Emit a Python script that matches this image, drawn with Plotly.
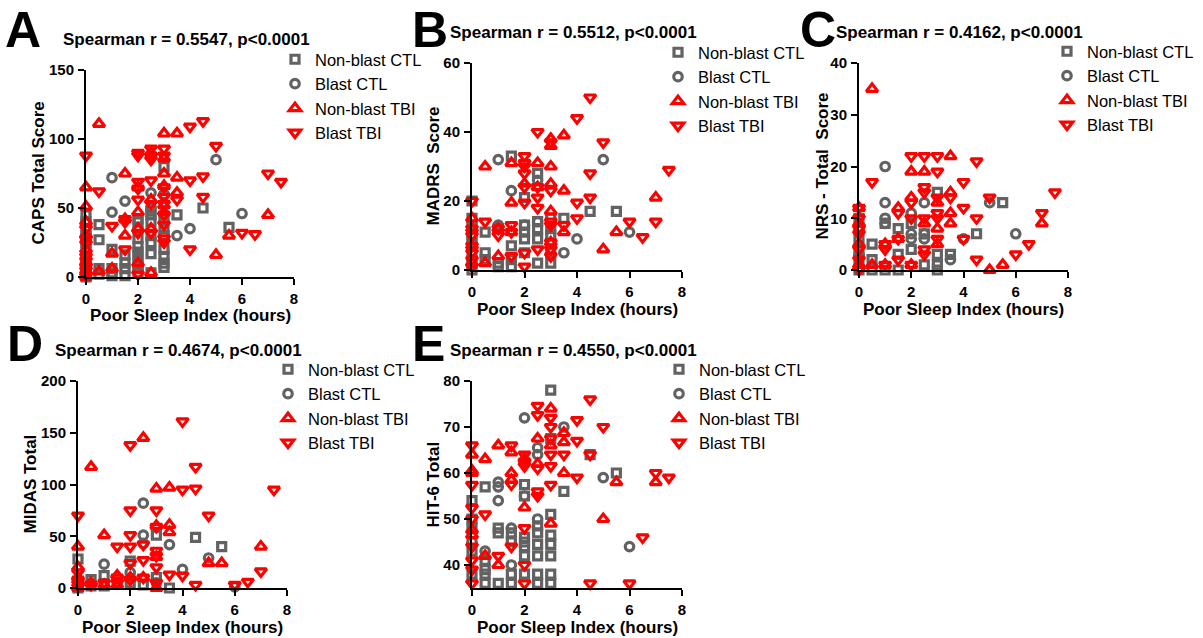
import plotly.graph_objects as go

W, H = 1203, 638
GREY = "#626262"
RED = "#ff0000"
FONT = "Liberation Sans, Arial, sans-serif"

# ---- data: (poor sleep index hours, score) ----
# A: CAPS total score
caps_nonblast_ctl = [(0, 0), (0, 2), (0, 5), (0, 8), (0, 12), (0, 15), (0, 20), (0, 25), (0, 30), (0, 35), (0, 40), (0, 45),
                     (0.5, 38), (0.5, 27), (0.5, 6), (0.5, 2), (1, 20), (1, 6), (1, 1), (1, 3), (1.5, 16), (1.5, 6), (1.5, 1), (1.5, 10),
                     (2, 28), (2, 22), (2, 18), (2, 14), (2, 10), (2, 6), (2, 3), (2, 40), (2, 42),
                     (2.5, 45), (2.5, 40), (2.5, 30), (2.5, 25), (2.5, 17), (2.5, 3), (2.5, 48),
                     (3, 35), (3, 30), (3, 20), (3, 15), (3, 10), (3, 7), (3, 80), (3, 42), (3.5, 45), (4.5, 50), (5.5, 36)]
caps_blast_ctl = [(0, 40), (0, 30), (1, 72), (1, 47), (1.5, 55), (2, 35), (2.5, 61), (2.5, 50), (3, 60), (3, 45),
                  (3.5, 30), (4, 35), (5, 85), (6, 46)]
caps_nonblast_tbi = [(0, 65), (0, 51), (0, 30), (0, 20), (0, 10), (0, 3), (0, 0), (0, 40), (0.5, 111), (0.5, 4), (1, 17), (1, 6),
                     (1.5, 75), (1.5, 30), (1.5, 42), (2, 47), (2, 35), (2, 65), (2, 10), (2.5, 56), (2.5, 35), (2.5, 90), (2.5, 3),
                     (3, 104), (3, 86), (3, 75), (3, 66), (3, 47), (3, 52), (3.5, 104), (3.5, 72), (3.5, 61),
                     (5, 16), (5.5, 30), (7, 45)]
caps_blast_tbi = [(0, 88), (0, 35), (0, 28), (0, 24), (0, 15), (0, 12), (0, 8), (0, 5), (0, 2), (0.5, 62), (1, 37),
                  (1.5, 42), (1.5, 40), (1.5, 20), (2, 90), (2, 69), (2, 64), (2, 56), (2, 32), (2, 2), (2, 88),
                  (2.5, 93), (2.5, 88), (2.5, 70), (2.5, 53), (2.5, 32), (2.5, 85),
                  (3, 93), (3, 58), (3, 53), (3, 45), (3, 38), (3, 28), (3, 25), (3, 65), (3, 88), (3.5, 56),
                  (4, 109), (4, 70), (4, 20), (4.5, 113), (4.5, 73), (4.5, 58), (5, 95), (6, 32), (6.5, 31), (7, 75), (7.5, 69)]

# B: MADRS score
madrs_nonblast_ctl = [(0, 0), (0, 2), (0, 5), (0, 8), (0, 10), (0, 13), (0, 15), (0, 20), (0.5, 11), (0.5, 5), (0.5, 3),
                      (1, 2), (1, 1), (1, 12), (1.5, 33), (1.5, 7), (1.5, 1), (1.5, 3), (2, 21), (2, 13), (2, 9), (2, 5), (2, 11),
                      (2.5, 28), (2.5, 14), (2.5, 9), (2.5, 2), (2.5, 12), (3, 10), (3, 2), (3, 12), (3, 15), (3, 5),
                      (3.5, 15), (4.5, 17), (5.5, 17)]
madrs_blast_ctl = [(0, 3), (0, 10), (1, 32), (1, 13), (1.5, 23), (2, 13), (2.5, 26), (2.5, 14), (3.5, 5), (4, 9), (5, 32), (6, 11)]
madrs_nonblast_tbi = [(0, 2), (0, 7), (0, 12), (0, 15), (0.5, 30), (0.5, 2), (1, 4), (1, 12), (1.5, 31), (1.5, 19.5), (1.5, 11),
                      (2, 25), (2.5, 31), (2.5, 24), (3, 38), (3, 36), (3, 30), (3, 25), (3, 17), (3, 8),
                      (3.5, 39), (3.5, 23), (3.5, 11), (5, 6), (5.5, 11), (7, 21)]
madrs_blast_tbi = [(0, 20), (0, 12), (0, 10), (0, 5), (0, 3), (0, 1), (0, 7), (0.5, 14), (1, 10), (1, 12),
                   (1.5, 13), (1.5, 11), (1.5, 4), (2, 33), (2, 30), (2, 28), (2, 24), (2, 19.5), (2, 5), (2, 1), (2, 31),
                   (2.5, 40), (2.5, 24), (2.5, 21), (2.5, 18), (2.5, 6), (3, 37), (3, 23), (3, 14), (3, 13), (3, 8), (3, 6), (3, 4),
                   (3.5, 13), (4, 44), (4, 19.5), (4, 15), (4.5, 50), (4.5, 28), (4.5, 21), (5, 37), (6, 14), (6.5, 9.5),
                   (7, 14), (7.5, 29)]

# C: NRS total score
nrs_nonblast_ctl = [(0, 0), (0, 2), (0, 4), (0, 6), (0, 8), (0, 10), (0.5, 5), (0.5, 2), (0.5, 0), (1, 9), (1, 0),
                    (1.5, 8), (1.5, 3), (1.5, 0), (2, 4), (2, 9), (2.5, 7), (2.5, 1), (3, 15), (3, 3), (3, 0), (3, 1),
                    (3.5, 3), (4.5, 7), (5.5, 13)]
nrs_blast_ctl = [(0, 3), (1, 20), (1, 13), (1, 10), (1, 9), (2, 11), (2, 7), (2, 6), (2.5, 13), (2.5, 7), (2.5, 6),
                 (3.5, 2), (4, 6), (5, 13), (6, 7)]
nrs_nonblast_tbi = [(0, 1), (0, 5), (0, 9), (0, 12), (0.5, 35), (0.5, 1), (1, 5), (1, 1), (1.5, 12), (1.5, 6),
                    (2, 19), (2, 14), (2, 1), (2.5, 19), (2.5, 9), (3, 13), (3, 8), (3, 5),
                    (3.5, 22), (3.5, 15), (3.5, 11), (3.5, 9), (5, 0), (5.5, 1), (7, 9)]
nrs_blast_tbi = [(0, 12), (0, 10), (0, 7), (0, 4), (0, 2), (0, 0), (0, 8), (0.5, 17), (1, 4), (1, 1), (1, 5),
                 (1.5, 11), (1.5, 6), (1.5, 2), (2, 22), (2, 13), (2, 10), (2, 1),
                 (2.5, 22), (2.5, 16), (2.5, 15), (2.5, 10), (2.5, 4), (2.5, 3), (3, 22), (3, 19), (3, 14), (3, 11), (3, 10), (3, 6),
                 (3.5, 14), (4, 17), (4, 12), (4, 6), (4.5, 21), (4.5, 10), (4.5, 2), (5, 14), (6, 3), (6.5, 5), (7, 11), (7.5, 15)]

# D: MIDAS total
midas_nonblast_ctl = [(0, 28), (0, 5), (0, 0), (0, 2), (0.5, 8), (0.5, 2), (1, 12), (1, 2), (1.5, 5), (2, 26), (2, 5),
                      (2.5, 3), (3, 51), (3, 10), (3.5, 0), (4.5, 49), (5.5, 40)]
midas_blast_ctl = [(0, 3), (1, 23), (2, 15), (2.5, 82), (2.5, 51), (2.5, 43), (3, 5), (3.5, 42), (4, 18), (5, 29), (6, 1)]
midas_nonblast_tbi = [(0, 40), (0, 20), (0, 10), (0, 0), (0.5, 117), (0.5, 5), (1, 51), (1, 3), (1.5, 12), (1.5, 3),
                      (2, 10), (2.5, 145), (2.5, 10), (3, 96), (3, 60), (3, 0), (3, 30), (3.5, 97), (3.5, 61), (3.5, 54),
                      (5, 24), (5.5, 24), (7, 40)]
midas_blast_tbi = [(0, 70), (0, 15), (0, 8), (0, 4), (0, 1), (0.5, 3), (1, 5), (1.5, 40), (1.5, 10), (1.5, 5),
                   (2, 138), (2, 75), (2, 51), (2, 40), (2, 24), (2, 8), (2.5, 42), (2.5, 27), (2.5, 10),
                   (3, 75), (3, 59), (3, 36), (3, 31), (3, 20), (3, 5), (3.5, 13), (4, 161), (4, 95), (4, 12),
                   (4.5, 117), (4.5, 96), (4.5, 3), (5, 70), (6, 3), (6.5, 6), (7, 16), (7.5, 95)]

# E: HIT-6 total
hit6_nonblast_ctl = [(0, 54), (0, 50), (0, 48), (0, 43), (0, 38), (0.5, 57), (0.5, 41), (0.5, 39), (0.5, 36), (0.5, 38),
                     (1, 48), (1, 47), (1, 36), (1.5, 47), (1.5, 45), (1.5, 38), (1.5, 36),
                     (2, 57.5), (2, 55), (2, 46), (2, 45), (2, 44), (2, 42), (2, 38),
                     (2.5, 48.5), (2.5, 47), (2.5, 44.5), (2.5, 42), (2.5, 38), (2.5, 36),
                     (3, 78), (3, 67.5), (3, 51), (3, 46.5), (3, 44.5), (3, 42), (3, 38), (3, 36),
                     (3.5, 56), (4.5, 64), (5.5, 60)]
hit6_blast_ctl = [(0, 45), (0.5, 43), (1, 58), (1, 57), (1, 54), (1.5, 48), (1.5, 40), (2, 72), (2, 55),
                  (2.5, 65.5), (2.5, 64), (2.5, 50), (3.5, 70), (5, 59), (6, 44)]
hit6_nonblast_tbi = [(0, 64), (0, 60), (0, 47.6), (0, 46.5), (0, 60.5), (0.5, 63), (0.5, 42), (1, 66), (1, 40),
                     (1.5, 64.5), (1.5, 58.5), (1.5, 60), (2, 52.5), (2, 63), (2.5, 67.5), (2.5, 62),
                     (3, 74), (3, 49), (3, 66), (3.5, 68.7), (3.5, 66.7), (3.5, 60), (5, 50), (5.5, 58), (7, 58)]
hit6_blast_tbi = [(0, 66), (0, 57.4), (0, 52.4), (0, 50), (0, 44), (0, 41), (0, 39), (0, 36), (0.5, 51), (1, 42),
                  (1.5, 66), (1.5, 57.5), (1.5, 44), (2, 64), (2, 61.5), (2, 48), (2, 40), (2, 36), (2, 62.5),
                  (2.5, 74.6), (2.5, 72.6), (2.5, 61), (2.5, 56), (2.5, 55),
                  (3, 72), (3, 70), (3, 67.5), (3, 64), (3, 61.5), (3, 57.4), (3.5, 64),
                  (4, 71.5), (4, 67), (4, 59), (4.5, 76), (4.5, 64), (4.5, 36), (5, 70), (6, 36), (6.5, 46), (7, 60), (7.5, 59)]

group_names = ["Non-blast CTL", "Blast CTL", "Non-blast TBI", "Blast TBI"]
x_ticks = [0, 2, 4, 6, 8]
x_title = "Poor Sleep Index (hours)"

panels = [
    dict(letter="A", stat="Spearman r = 0.5547, p<0.0001", ytitle="CAPS Total Score",
         groups=[caps_nonblast_ctl, caps_blast_ctl, caps_nonblast_tbi, caps_blast_tbi],
         yrange=[0, 150], yticks=[0, 50, 100, 150]),
    dict(letter="B", stat="Spearman r = 0.5512, p<0.0001", ytitle="MADRS\u00a0 Score",
         groups=[madrs_nonblast_ctl, madrs_blast_ctl, madrs_nonblast_tbi, madrs_blast_tbi],
         yrange=[0, 60], yticks=[0, 20, 40, 60]),
    dict(letter="C", stat="Spearman r = 0.4162, p<0.0001", ytitle="NRS - Total\u00a0 Score",
         groups=[nrs_nonblast_ctl, nrs_blast_ctl, nrs_nonblast_tbi, nrs_blast_tbi],
         yrange=[0, 40], yticks=[0, 10, 20, 30, 40]),
    dict(letter="D", stat="Spearman r = 0.4674, p<0.0001", ytitle="MIDAS Total",
         groups=[midas_nonblast_ctl, midas_blast_ctl, midas_nonblast_tbi, midas_blast_tbi],
         yrange=[0, 200], yticks=[0, 50, 100, 150, 200]),
    dict(letter="E", stat="Spearman r = 0.4550, p<0.0001", ytitle="HIT-6 Total",
         groups=[hit6_nonblast_ctl, hit6_blast_ctl, hit6_nonblast_tbi, hit6_blast_tbi],
         yrange=[35, 80], yticks=[40, 50, 60, 70, 80]),
]

# ---- layout geometry in pixels (margins fixed at zero, so paper == page) ----
boxes = [(86, 294, 70, 277), (472, 682, 63, 270), (859, 1068, 63, 270),
         (78, 287, 381, 588), (472, 682, 381, 588)]           # left, right, top, bottom
letter_pos = [(3, 30), (410, 30), (798, 30), (5, 344), (410, 344)]
stat_pos = [(61, 40), (448, 33), (834, 33), (53, 350), (448, 350)]
ytitle_x = [38, 433, 822, 30, 433]
legend_top = [42, 35, 34, 352, 352]
legend_x = [295, 678, 1067, 288, 679]

styles = [("square-open", GREY, 8), ("circle-open", GREY, 8.5),
          ("triangle-up-open", RED, 10), ("triangle-down-open", RED, 10)]


def px(x):
    return x / W


def py(y):
    return 1 - y / H


fig = go.Figure()
annotations = []
layout = {}

for i, p in enumerate(panels):
    n = i + 1
    sfx = "" if n == 1 else str(n)
    xa, ya = "x" + sfx, "y" + sfx
    lg = "legend" + sfx
    l, r, t, b = boxes[i]

    for gname, pts, (sym, col, sz) in zip(group_names, p["groups"], styles):
        fig.add_trace(go.Scatter(
            x=[q[0] for q in pts], y=[q[1] for q in pts], mode="markers", name=gname,
            xaxis=xa, yaxis=ya, legend=lg,
            cliponaxis=False,
            marker=dict(symbol=sym, size=sz, color=col, line=dict(width=3.2, color=col)),
            hoverinfo="skip"))

    axis_common = dict(showline=True, linecolor="black", linewidth=2, ticks="outside",
                       ticklen=6, tickwidth=2, tickcolor="black", showgrid=False, zeroline=False,
                       tickfont=dict(family=FONT, size=15, color="black", weight="bold"))
    layout["xaxis" + sfx] = dict(domain=[px(l), px(r)], range=[0, 8], tickvals=x_ticks,
                                 anchor=ya, ticklabelstandoff=1, **axis_common)
    layout["yaxis" + sfx] = dict(domain=[py(b), py(t)], range=p["yrange"], tickvals=p["yticks"],
                                 anchor=xa, ticklabelstandoff=1, **axis_common)

    layout[lg] = dict(x=px(legend_x[i] - 20), y=py(legend_top[i]), xanchor="left", yanchor="top",
                      traceorder="normal", bgcolor="rgba(0,0,0,0)",
                      font=dict(family=FONT, size=16.5, color="black"))

    annotations.append(dict(text=p["letter"], x=px(letter_pos[i][0]), y=py(letter_pos[i][1]),
                            xref="paper", yref="paper", xanchor="left", yanchor="middle",
                            showarrow=False,
                            font=dict(family=FONT, size=50, color="black", weight="bold")))
    annotations.append(dict(text=p["stat"], x=px(stat_pos[i][0]), y=py(stat_pos[i][1]),
                            xref="paper", yref="paper", xanchor="left", yanchor="middle",
                            showarrow=False,
                            font=dict(family=FONT, size=17, color="black", weight="bold")))
    annotations.append(dict(text=p["ytitle"], x=px(ytitle_x[i]), y=py((t + b) / 2),
                            xref="paper", yref="paper", xanchor="center", yanchor="middle",
                            textangle=-90, showarrow=False,
                            font=dict(family=FONT, size=17, color="black", weight="bold")))
    annotations.append(dict(text=x_title, x=px((l + r) / 2), y=py(b + 39),
                            xref="paper", yref="paper", xanchor="center", yanchor="middle",
                            showarrow=False,
                            font=dict(family=FONT, size=17, color="black", weight="bold")))

fig.update_layout(width=W, height=H, margin=dict(l=0, r=0, t=0, b=0, autoexpand=False),
                  paper_bgcolor="white", plot_bgcolor="white", showlegend=True,
                  annotations=annotations, **layout)

fig.write_html("out.html")
